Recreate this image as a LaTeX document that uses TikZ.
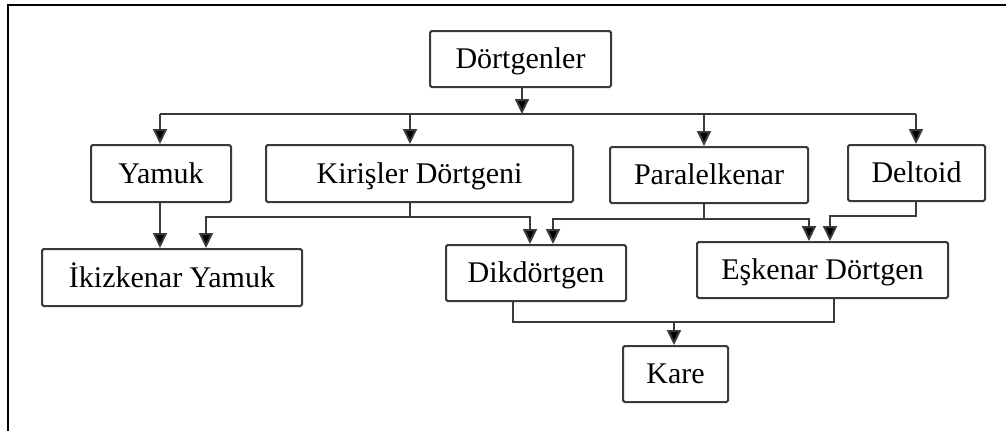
\documentclass[tikz,border=0pt]{standalone}
\usepackage{fontspec}
\setmainfont{Liberation Serif}
\usetikzlibrary{arrows.meta}
\definecolor{edge}{HTML}{3A3A3A}
\tikzset{
  box/.style={draw=edge, line width=1pt, rounded corners=0.8pt, fill=white,
    inner sep=0pt, font=\fontsize{15}{18}\selectfont, text=black,
    text height=9.9pt, text depth=0pt},
  link/.style={draw=edge, line width=1pt},
  arr/.style={link, -{Triangle[length=7.5pt,width=7pt,fill=black]}}
}
\begin{document}
\begin{tikzpicture}[x=0.5pt, y=-0.5pt]
\useasboundingbox (0,0) rectangle (1006,430);
% frame
\draw[line width=1pt, black] (8,432) -- (8,5) -- (1008,5);

% boxes
\node[box, minimum width=90.5pt, minimum height=28pt] (dort) at (520.5,59) {Dörtgenler};
\node[box, minimum width=70pt, minimum height=28.5pt] (yamuk) at (161,173.5) {Yamuk};
\node[box, minimum width=153.5pt, minimum height=28.5pt] (kiris) at (419.5,173.5) {Kirişler Dörtgeni};
\node[box, minimum width=99pt, minimum height=28pt] (paral) at (709,175) {Paralelkenar};
\node[box, minimum width=68.5pt, minimum height=28pt] (delt) at (916.5,173) {Deltoid};
\node[box, minimum width=130pt, minimum height=28.5pt] (ikiz) at (172,277.5) {İkizkenar Yamuk};
\node[box, minimum width=90pt, minimum height=28pt] (dikd) at (536,273) {Dikdörtgen};
\node[box, minimum width=125.5pt, minimum height=28pt] (eske) at (822.5,270) {Eşkenar Dörtgen};
\node[box, minimum width=52.5pt, minimum height=28pt] (kare) at (675.5,374) {Kare};

% junction points
\coordinate (bD) at (522,114);
\coordinate (bL) at (160,114);
\coordinate (bK) at (410,114);
\coordinate (bP) at (704,114);
\coordinate (bR) at (916,114);
\coordinate (kb) at (410,217);
\coordinate (kl) at (206,217);
\coordinate (kr) at (530,217);
\coordinate (pb) at (704,219);
\coordinate (pl) at (553,219);
\coordinate (pr) at (809,219);
\coordinate (db) at (916,216);
\coordinate (dl) at (830,216);
\coordinate (dk) at (513,322);
\coordinate (ek) at (834,322);
\coordinate (ka) at (674,322);

% top level
\draw[arr] (dort.south -| bD) -- (bD);
\draw[link] (bL) -- (bR);
\draw[arr] (bL) -- (yamuk.north -| bL);
\draw[arr] (bK) -- (kiris.north -| bK);
\draw[arr] (bP) -- (paral.north -| bP);
\draw[arr] (bR) -- (delt.north -| bR);

% second level
\draw[arr] (yamuk.south -| bL) -- (ikiz.north -| bL);
\draw[arr] (kiris.south -| kb) |- (kl) -- (ikiz.north -| kl);
\draw[arr] (kb) -| (dikd.north -| kr);
\draw[arr] (paral.south -| pb) |- (pl) -- (dikd.north -| pl);
\draw[arr] (pb) -| (eske.north -| pr);
\draw[arr] (delt.south -| db) |- (dl) -- (eske.north -| dl);

% bottom level
\draw[link] (dikd.south -| dk) |- (ek) -- (eske.south -| ek);
\draw[arr] (ka) -- (kare.north -| ka);
\end{tikzpicture}
\end{document}
